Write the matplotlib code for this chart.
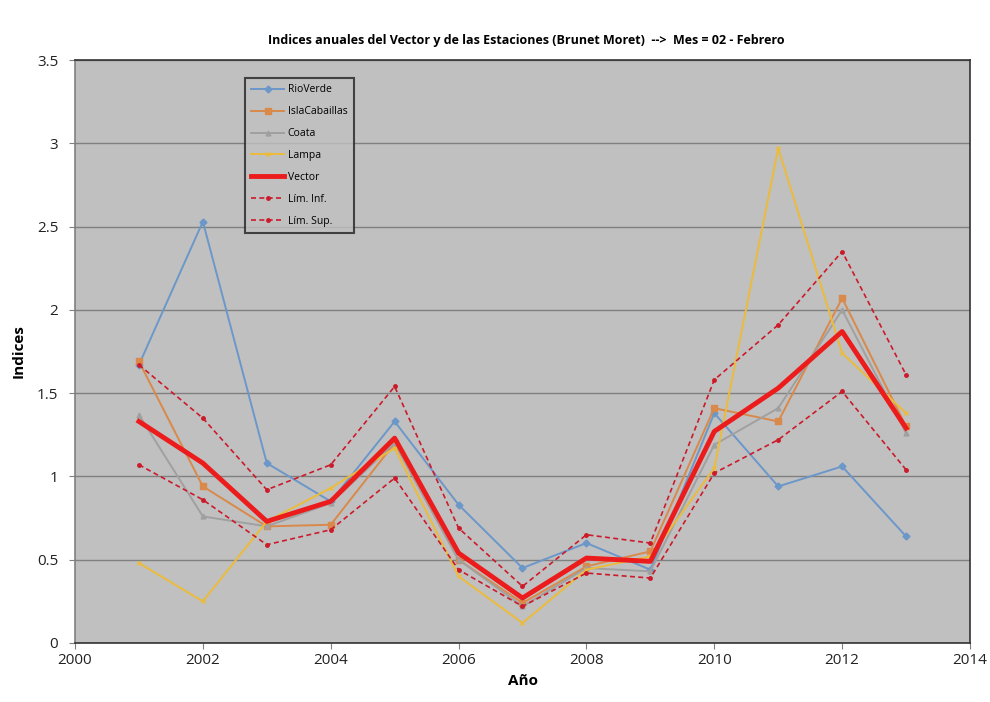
import numpy as np
import matplotlib.pyplot as plt

years = [2001, 2002, 2003, 2004, 2005, 2006, 2007, 2008, 2009, 2010, 2011, 2012, 2013]

rio_verde = [1.67, 2.53, 1.08, 0.85, 1.33, 0.83, 0.45, 0.60, 0.44, 1.38, 0.94, 1.06, 0.64]
isla_cabaillas = [1.69, 0.94, 0.70, 0.71, 1.20, 0.50, 0.24, 0.46, 0.55, 1.41, 1.33, 2.07, 1.30]
coata = [1.37, 0.76, 0.70, 0.84, 1.20, 0.50, 0.22, 0.45, 0.43, 1.19, 1.41, 2.00, 1.26]
lampa = [0.48, 0.25, 0.73, 0.93, 1.17, 0.40, 0.12, 0.44, 0.52, 1.05, 2.97, 1.74, 1.38]
vector = [1.33, 1.08, 0.73, 0.85, 1.23, 0.54, 0.27, 0.51, 0.49, 1.27, 1.53, 1.87, 1.29]
lim_inf = [1.07, 0.86, 0.59, 0.68, 0.99, 0.44, 0.22, 0.42, 0.39, 1.02, 1.22, 1.51, 1.04]
lim_sup = [1.67, 1.35, 0.92, 1.07, 1.54, 0.69, 0.34, 0.65, 0.60, 1.58, 1.91, 2.35, 1.61]

plt.rcParams['font.family'] = ['Open Sans', 'DejaVu Sans']

fig = plt.figure(figsize=(9.9, 7.02), dpi=100)
ax = fig.add_axes([75/990, 1-643/702, 895/990, 583/702])
ax.set_facecolor('#c0c0c0')

ax.plot(years, rio_verde, color='#6b97c9', lw=1.4, marker='D', ms=3.5, label='RioVerde')
ax.plot(years, isla_cabaillas, color='#d9894a', lw=1.4, marker='s', ms=4.5, label='IslaCabaillas')
ax.plot(years, coata, color='#a0a0a0', lw=1.4, marker='^', ms=3.5, label='Coata')
ax.plot(years, lampa, color='#ecbb3a', lw=1.4, marker='x', ms=2.5, label='Lampa')
ax.plot(years, vector, color='#ec1c1c', lw=3.5, label='Vector')
ax.plot(years, lim_inf, color='#cc1a2a', lw=1.2, ls=(0, (3, 2)), marker='o', ms=2.5, label='Lím. Inf.')
ax.plot(years, lim_sup, color='#cc1a2a', lw=1.2, ls=(0, (3, 2)), marker='o', ms=2.5, label='Lím. Sup.')

ax.set_xlim(2000, 2014)
ax.set_ylim(0, 3.5)
ax.set_xticks(np.arange(2000, 2015, 2))
ax.set_yticks(np.arange(0, 3.51, 0.5))
ax.set_yticklabels(['0', '0.5', '1', '1.5', '2', '2.5', '3', '3.5'])
ax.yaxis.grid(True, color='#808080', lw=1)
ax.set_axisbelow(True)
ax.tick_params(labelsize=11, length=4, color='#808080', labelcolor='#222222')
ax.tick_params(axis='y', pad=8)
for name, s in ax.spines.items():
    s.set_color('#808080' if name == 'left' else '#333333')
    s.set_linewidth(1.2)

ax.set_xlabel('Año', fontsize=11, fontweight='bold')
ax.set_ylabel('Indices', fontsize=11, fontweight='bold')
ax.yaxis.set_label_coords(-0.055, 0.5)
fig.text(0.532, 0.943, 'Indices anuales del Vector y de las Estaciones (Brunet Moret)  -->  Mes = 02 - Febrero',
         ha='center', va='center', fontsize=9, fontweight='bold')

leg = ax.legend(loc='upper left', bbox_to_anchor=(0.184, 0.978), fontsize=7.5,
                frameon=True, fancybox=False, facecolor='#c0c0c0', edgecolor='#222222',
                handlelength=3.2, handletextpad=0.3, labelspacing=1.05, borderpad=0.6)
leg.get_frame().set_linewidth(1.5)

fig.savefig('out.png', dpi=100)
